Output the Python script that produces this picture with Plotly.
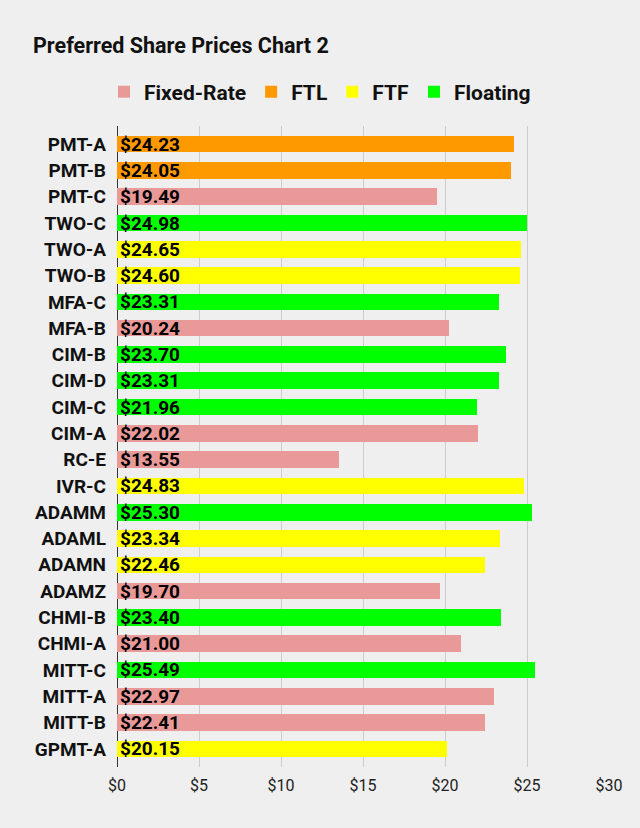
import plotly.graph_objects as go

categories = ["PMT-A", "PMT-B", "PMT-C", "TWO-C", "TWO-A", "TWO-B", "MFA-C", "MFA-B",
              "CIM-B", "CIM-D", "CIM-C", "CIM-A", "RC-E", "IVR-C", "ADAMM", "ADAML",
              "ADAMN", "ADAMZ", "CHMI-B", "CHMI-A", "MITT-C", "MITT-A", "MITT-B", "GPMT-A"]
prices = [24.23, 24.05, 19.49, 24.98, 24.65, 24.60, 23.31, 20.24,
          23.70, 23.31, 21.96, 22.02, 13.55, 24.83, 25.30, 23.34,
          22.46, 19.70, 23.40, 21.00, 25.49, 22.97, 22.41, 20.15]
types = ["FTL", "FTL", "Fixed-Rate", "Floating", "FTF", "FTF", "Floating", "Fixed-Rate",
         "Floating", "Floating", "Floating", "Fixed-Rate", "Fixed-Rate", "FTF", "Floating", "FTF",
         "FTF", "Fixed-Rate", "Floating", "Fixed-Rate", "Floating", "Fixed-Rate", "Fixed-Rate", "FTF"]
series_names = ["Fixed-Rate", "FTL", "FTF", "Floating"]
series_colors = ["#ea9999", "#ff9900", "#ffff00", "#00ff00"]
tick_vals = [0, 5, 10, 15, 20, 25, 30]
tick_text = ["$0", "$5", "$10", "$15", "$20", "$25", "$30"]

FONT = "Roboto"
fig = go.Figure()
for name, color in zip(series_names, series_colors):
    vals = [p if t == name else None for p, t in zip(prices, types)]
    txt = [f"${p:.2f}" if t == name else "" for p, t in zip(prices, types)]
    fig.add_trace(go.Bar(
        y=categories, x=vals, orientation="h", name=name,
        marker=dict(color=color, line=dict(width=0)),
        text=txt, textposition="inside", insidetextanchor="start",
        constraintext="none", cliponaxis=False,
        textfont=dict(family=FONT, size=19, color="#000000", weight="bold"),
        hoverinfo="skip",
    ))

n = len(categories)
fig.update_layout(
    width=640, height=828,
    paper_bgcolor="#efefef", plot_bgcolor="#efefef",
    barmode="stack", bargap=0.37,
    margin=dict(l=117, r=31, t=126, b=61),
    font=dict(family=FONT, color="#222222"),
    title=dict(text="<b>Preferred Share Prices Chart 2</b>", x=33/640, xanchor="left",
               y=1 - 45/828, yanchor="middle", font=dict(family=FONT, size=21.5, color="#111111")),
    legend=dict(orientation="h", xref="container", x=0.5, xanchor="center",
                yref="container", y=1 - 92/828, yanchor="middle",
                font=dict(family=FONT, size=21, color="#111111", weight="bold"),
                traceorder="normal", itemwidth=30),
    uniformtext=dict(minsize=19, mode="show"),
    showlegend=True,
)
fig.update_xaxes(range=[0, 30], tickvals=tick_vals, ticktext=tick_text,
                 showgrid=True, gridcolor="#cccccc", gridwidth=1,
                 zeroline=True, zerolinecolor="#333333", zerolinewidth=1,
                 tickfont=dict(family=FONT, size=16, color="#222222"),
                 ticklabelstandoff=7,
                 showline=False, ticks="", fixedrange=True)
fig.update_yaxes(range=[n - 1 + 0.69, -0.69], showgrid=False, ticks="", ticklen=0,
                 ticklabelstandoff=10, fixedrange=True,
                 tickfont=dict(family=FONT, size=19, color="#111111", weight="bold"),
                 showline=False, zeroline=False)

fig.write_html("out.html", config={"displayModeBar": False},
               post_script="document.body.style.margin='0';document.body.style.background='#efefef';")
